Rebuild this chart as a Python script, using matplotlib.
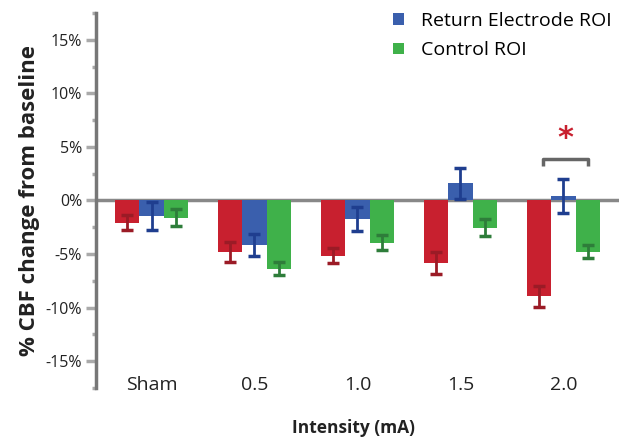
import matplotlib.pyplot as plt
import numpy as np

plt.rcParams['font.family'] = ['Open Sans', 'DejaVu Sans']

groups = ["Sham", "0.5", "1.0", "1.5", "2.0"]
series_names = ["Active Electrode ROI", "Return Electrode ROI", "Control ROI"]

# mean % change and error
red_vals = [-2.1, -4.8, -5.15, -5.85, -8.95]
red_err = [0.7, 0.9, 0.7, 1.0, 1.0]
blue_vals = [-1.45, -4.15, -1.75, 1.6, 0.45]
blue_err = [1.35, 1.0, 1.1, 1.45, 1.6]
green_vals = [-1.6, -6.35, -3.95, -2.55, -4.8]
green_err = [0.8, 0.6, 0.7, 0.8, 0.6]

fill_colors = ["#C8202F", "#3A5FAD", "#3FB14A"]
err_colors = ["#9B1B26", "#1F3E8F", "#2E7D3A"]

fig = plt.figure(figsize=(6.3, 4.43), dpi=100)
ax = fig.add_axes([96 / 630, 1 - 388 / 443, (619 - 96) / 630, (388 - 13) / 443])

x = np.arange(len(groups))
w = 0.236
allvals = [red_vals, blue_vals, green_vals]
allerr = [red_err, blue_err, green_err]
for i in range(3):
    pos = x + (i - 1) * w
    ax.bar(pos, allvals[i], w, color=fill_colors[i], zorder=2,
           label=series_names[i] if i > 0 else "_nolegend_")
    ax.errorbar(pos, allvals[i], yerr=allerr[i], fmt="none", ecolor=err_colors[i],
                elinewidth=2, capsize=4.5, capthick=2.5, zorder=3)

ax.axhline(0, color="#888888", lw=2.5, zorder=1)

ax.set_xlim(-0.539, 4.54)
ax.set_ylim(-17.5, 17.5)
ax.set_yticks([-15, -10, -5, 0, 5, 10, 15])
ax.set_yticklabels(["-15%", "-10%", "-5%", "0%", "5%", "10%", "15%"])
ax.set_yticks(np.arange(-17.5, 17.6, 2.5), minor=True)
ax.tick_params(axis="y", which="major", length=7, width=2.5, color="#AAAAAA",
               labelsize=11.5, labelcolor="#222222", pad=3)
ax.tick_params(axis="y", which="minor", length=3, width=2.5, color="#AAAAAA")
ax.set_xticks(x)
ax.set_xticklabels(groups)
ax.tick_params(axis="x", length=0, labelsize=14, labelcolor="#222222", pad=-9)

for s in ["top", "right", "bottom"]:
    ax.spines[s].set_visible(False)
ax.spines["left"].set_color("#777777")
ax.spines["left"].set_linewidth(2.5)

ax.set_ylabel("% CBF change from baseline", fontsize=16, fontweight="bold",
              color="#222222", labelpad=4)
fig.text(354 / 630, 1 - 428 / 443, "Intensity (mA)", fontsize=12.5, fontweight="bold",
         color="#222222", ha="center", va="center")

# significance bracket
bx0, bx1 = 3.80, 4.24
ax.plot([bx0, bx0, bx1, bx1], [3.2, 3.87, 3.87, 3.2], color="#666666", lw=2.5,
        solid_capstyle="butt", zorder=4)
ax.text(4.02, 5.0, "*", color="#C8202F", fontsize=22, fontweight="bold",
        family="DejaVu Sans", ha="center", va="baseline")

handles, labels = ax.get_legend_handles_labels()
leg = ax.legend(handles, labels, loc="upper right", bbox_to_anchor=(1.02, 1.05),
                frameon=False, fontsize=14, handlelength=0.55, handleheight=0.55,
                handletextpad=0.9, labelspacing=0.6)

fig.savefig("out.png", dpi=100)
